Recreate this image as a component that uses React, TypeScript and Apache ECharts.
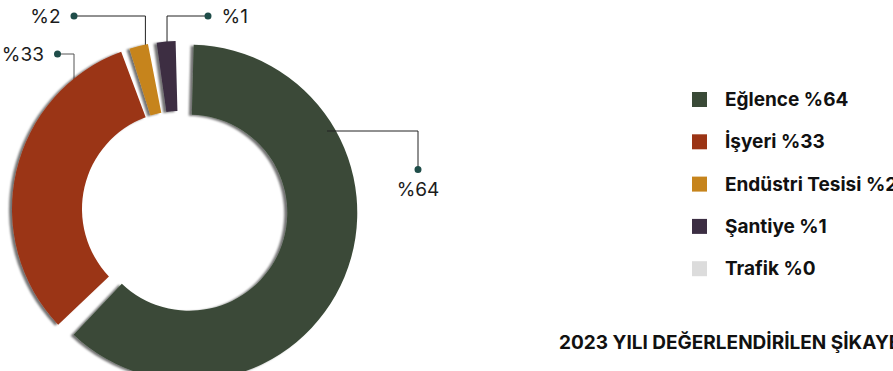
import React, { useEffect, useRef } from 'react';
import * as echarts from 'echarts';

// ---- data ----
const categories = ['Eğlence', 'İşyeri', 'Endüstri Tesisi', 'Şantiye', 'Trafik'];
const percentages = [64, 33, 2, 1, 0];
const sliceLabels = ['%64', '%33', '%2', '%1', '%0'];
const colors = ['#3a4a37', '#9b3415', '#c6841c', '#3c2e43', '#dcdcdc'];
const titleText = '2023 YILI DEĞERLENDİRİLEN ŞİKAYETLER';

const FONT = 'Inter, "Noto Sans", sans-serif';
const DOT = '#1f4d49';

export default function App() {
  const ref = useRef<HTMLDivElement>(null);

  useEffect(() => {
    if (!ref.current) return;
    const chart = echarts.init(ref.current, null, { renderer: 'svg', width: 893, height: 371 });

    const center = [180, 209];
    const radius = [98, 168];
    const explodedIndex = 0;
    const explode = 10;
    // direction of the exploded slice: middle of its sweep (clockwise from 12 o'clock)
    const explodeDeg = 112;
    const explodedCenter = [
      center[0] + explode * Math.sin((explodeDeg * Math.PI) / 180),
      center[1] - explode * Math.cos((explodeDeg * Math.PI) / 180),
    ];

    const formatters = [
      '{d|}\n{tb|' + sliceLabels[0] + '}',
      '{tr|' + sliceLabels[1] + '}{d|}',
      '{tr|' + sliceLabels[2] + '}{d|}',
      '{d|}{tl|' + sliceLabels[3] + '}',
      '',
    ];

    const shadow = {
      shadowColor: 'rgba(0,0,0,0.55)',
      shadowBlur: 2,
      shadowOffsetX: -3,
      shadowOffsetY: 1,
    };
    const noShadow = { shadowColor: 'transparent', shadowBlur: 0, shadowOffsetX: 0, shadowOffsetY: 0 };

    const baseData = categories.map((name, i) => ({
      name,
      value: percentages[i] > 0 ? percentages[i] : '-',
      itemStyle:
        i === explodedIndex
          ? { color: 'transparent', ...noShadow }
          : { color: colors[i], ...shadow },
      label: { show: percentages[i] > 0, formatter: formatters[i] },
      labelLine: i === 1 ? { lineStyle: { color: '#555' } } : undefined,
    }));

    const explodedData = categories.map((name, i) => ({
      name,
      value: percentages[i] > 0 ? percentages[i] : '-',
      itemStyle:
        i === explodedIndex
          ? { color: colors[i], ...shadow }
          : { color: 'transparent', ...noShadow },
    }));

    const labelLayout = (params: any) => {
      const i = params.dataIndex;
      const rect = params.rect;
      if (i === 0) {
        return {
          x: 418, y: 166, align: 'center', verticalAlign: 'top',
          labelLinePoints: [[327, 131], [418, 131], [418, 167]],
        };
      }
      if (i === 1) {
        return {
          x: 61, y: 54, align: 'right', verticalAlign: 'middle',
          labelLinePoints: [[74, 83], [74, 54], [58, 54]],
        };
      }
      if (i === 2) {
        const mx = rect.x + rect.width / 2;
        return {
          x: 77.5, y: 16, align: 'right', verticalAlign: 'middle',
          labelLinePoints: [[mx, rect.y + 2], [mx, 16], [74, 16]],
        };
      }
      if (i === 3) {
        const mx = rect.x + rect.width / 2;
        return {
          x: 204.5, y: 16, align: 'left', verticalAlign: 'middle',
          labelLinePoints: [[mx, rect.y + 2], [mx, 16], [208, 16]],
        };
      }
      return {};
    };

    const pieCommon = {
      type: 'pie',
      radius,
      startAngle: 90,
      clockwise: true,
      padAngle: 3,
      minAngle: 6.5,
      avoidLabelOverlap: false,
      selectedMode: false,
      emphasis: { disabled: true },
    };

    chart.setOption({
      animation: false,
      title: {
        text: titleText,
        left: 559,
        top: 333,
        padding: 0,
        textStyle: { fontFamily: FONT, fontSize: 19, fontWeight: 'bold', color: '#111' },
      },
      legend: {
        orient: 'vertical',
        left: 692,
        top: 90,
        padding: 0,
        itemWidth: 15,
        itemHeight: 15,
        itemGap: 23.3,
        icon: 'rect',
        selectedMode: false,
        data: categories.map((name, i) => ({ name, itemStyle: { color: colors[i], ...noShadow } })),
        formatter: (name: string) => name + ' ' + sliceLabels[categories.indexOf(name)],
        textStyle: {
          fontFamily: FONT, fontSize: 19, fontWeight: 'bold', color: '#111',
          lineHeight: 15, padding: [0, 0, 0, 13],
        },
      },
      series: [
        {
          ...pieCommon,
          center,
          z: 2,
          label: {
            show: true,
            position: 'outside',
            rich: {
              d: { width: 7, height: 7, borderRadius: 3.5, backgroundColor: DOT },
              tb: { fontFamily: FONT, fontSize: 19, color: '#1b1b1b', lineHeight: 32 },
              tr: { fontFamily: FONT, fontSize: 19, color: '#1b1b1b', lineHeight: 22, padding: [0, 10, 0, 0] },
              tl: { fontFamily: FONT, fontSize: 19, color: '#1b1b1b', lineHeight: 22, padding: [0, 0, 0, 10] },
            },
          },
          labelLine: { show: true, length: 10, length2: 10, smooth: false, lineStyle: { color: '#222', width: 1 } },
          labelLayout,
          data: baseData,
        },
        {
          ...pieCommon,
          center: explodedCenter,
          z: 1,
          silent: true,
          label: { show: false },
          labelLine: { show: false },
          data: explodedData,
        },
      ],
    });

    return () => chart.dispose();
  }, []);

  return (
    <div
      ref={ref}
      style={{ position: 'fixed', left: 0, top: 0, width: 893, height: 371, background: '#fff' }}
    />
  );
}
